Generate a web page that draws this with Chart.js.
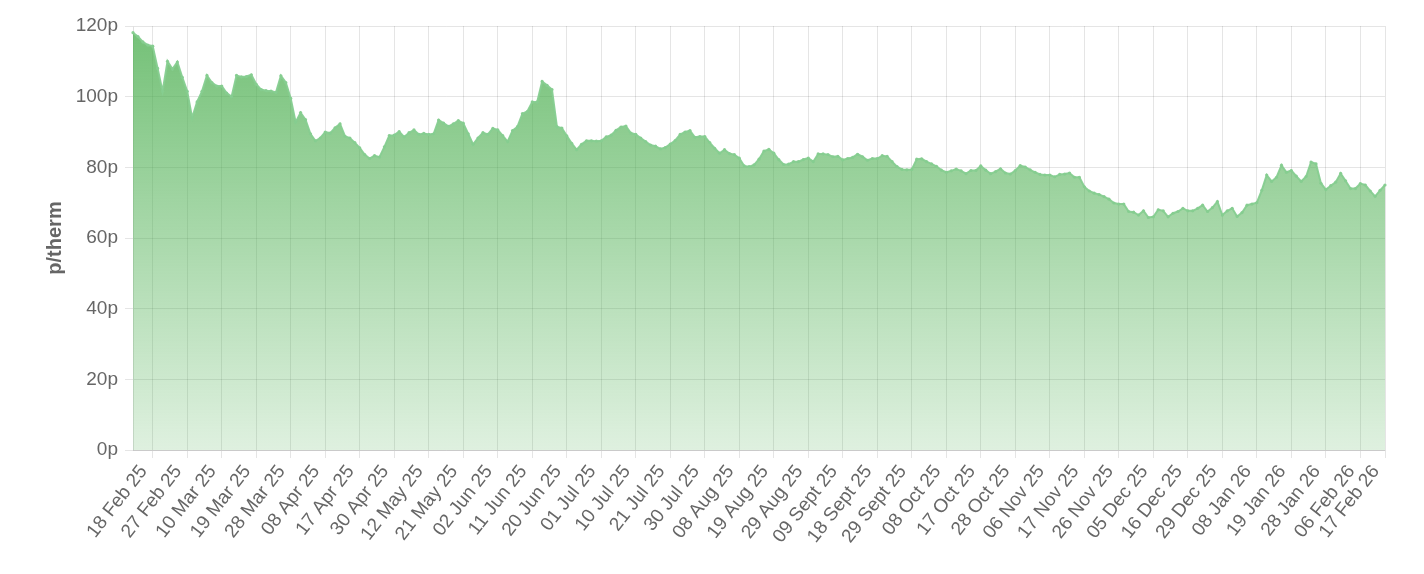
<!DOCTYPE html>
<html>
<head>
<meta charset="utf-8">
<script src="https://cdn.jsdelivr.net/npm/chart.js@4/dist/chart.umd.min.js"></script>
<style>
  html, body { margin: 0; padding: 0; background: #ffffff; }
  #wrap { width: 1424px; height: 574px; }
</style>
</head>
<body>
<div id="wrap"><canvas id="c" width="1424" height="574"></canvas></div>
<script>
// ---- DATA (p/therm, one value per trading day) ----
const pricesFebApr = [118.1,117,115.5,114.6,114.3,108,101.5,110,107.8,109.8,105.5,101.5,94,98.5,101.5,106,104,103,103,101,100,106,
  105.6,105.7,106.2,103.5,102,101.7,101.6,101.2,105.9,104,99.5,92.8,95.5,93.5,89.5,87.5,88.3,90,89.7,91.2,92.3,88.8,88.3];
const pricesAprJun = [87,85.5,83.6,82.5,83.3,82.9,85.8,89,89.1,90.1,88.6,89.8,90.6,89.3,89.6,89.3,89.5,93.4,92.5,91.6,92.3,93.2,92.5,89.5,
  86.5,88.3,89.8,89.3,91,90.6,89,87.3,90.4,91.5,95.2,95.8,98.5,98.5,104.3,103.2,102,91.5,91.1,88.9,86.8,85,86.5];
const pricesJulAug = [87.5,87.5,87.4,87.5,88.6,89.1,90.5,91.4,91.7,89.7,89.3,88.3,87.3,86.3,86,85.2,85.6,86.6,87.6,89.3,90,90.4,88.5,
  88.7,88.7,87,85.4,84,85,83.9,83.6,82.6,80.4,80.2,80.7,82.3,84.6,85.1,84,82.2,80.8,80.9,81.6,81.6,82.2,82.6,81.6];
const pricesSepOct = [83.8,83.8,83.6,83,83.1,82.1,82.5,82.8,83.7,83,82,82.5,82.5,83.3,83.1,81.6,80.2,79.4,79.3,79.4,82.3,82.4,81.6,
  81,80.3,79.2,78.6,79,79.5,79,78.2,79.1,79.1,80.4,79.2,78.2,78.8,79.6,78.4,78.1,79.1,80.5,80.1,79.3,78.6,78];
const pricesNovDec = [77.8,77.8,77.3,78,78.1,78.4,77.2,77.2,74.5,73.3,72.7,72.3,71.7,71,69.9,69.6,69.6,67.5,67.3,66.5,67.7,65.8,66,
  68,67.7,66,67,67.5,68.4,67.7,67.7,68.4,69.3,67.5,68.6,70.3,66.5,67.7,68.4,66.1,67.2,69.3,69.6,70,73.5,77.8,76];
const pricesJanFeb = [77.2,80.6,78.6,79.1,77.5,76,77.4,81.5,81,75.5,73.7,74.8,75.8,78.3,76.2,74,74,75.4,75,73.3,71.8,73.5,75];
const prices = [].concat(pricesFebApr, pricesAprJun, pricesJulAug, pricesSepOct, pricesNovDec, pricesJanFeb);

// Tick labels shown on the x axis
const tickLabels = ['18 Feb 25','27 Feb 25','10 Mar 25','19 Mar 25','28 Mar 25','08 Apr 25','17 Apr 25','30 Apr 25',
  '12 May 25','21 May 25','02 Jun 25','11 Jun 25','20 Jun 25','01 Jul 25','10 Jul 25','21 Jul 25','30 Jul 25',
  '08 Aug 25','19 Aug 25','29 Aug 25','09 Sept 25','18 Sept 25','29 Sept 25','08 Oct 25','17 Oct 25','28 Oct 25',
  '06 Nov 25','17 Nov 25','26 Nov 25','05 Dec 25','16 Dec 25','29 Dec 25','08 Jan 26','19 Jan 26','28 Jan 26',
  '06 Feb 26','17 Feb 26'];
const yTicks = [0,20,40,60,80,100,120];

// Categories: trading days (no weekends / UK bank holidays / days without a price)
const monthNames = ['Jan','Feb','Mar','Apr','May','Jun','Jul','Aug','Sept','Oct','Nov','Dec'];
const closedDays = ['2025-04-18','2025-04-21','2025-05-05','2025-05-26','2025-08-25','2025-12-25','2025-12-26','2026-01-01','2026-02-12','2026-02-13'];
const categories = [];
(function buildCategories(){
  let d = new Date(Date.UTC(2025,1,12));
  while (categories.length < prices.length) {
    const dow = d.getUTCDay();
    const iso = d.toISOString().slice(0,10);
    if (dow !== 0 && dow !== 6 && closedDays.indexOf(iso) < 0) {
      const dd = String(d.getUTCDate()).padStart(2,'0');
      const yy = String(d.getUTCFullYear()).slice(2);
      categories.push(dd + ' ' + monthNames[d.getUTCMonth()] + ' ' + yy);
    }
    d = new Date(d.getTime() + 86400000);
  }
})();

const FONT = "'Liberation Sans', Arial, Helvetica, sans-serif";
const ctx = document.getElementById('c').getContext('2d');

new Chart(ctx, {
  type: 'line',
  data: {
    labels: categories,
    datasets: [{
      data: prices,
      fill: 'origin',
      tension: 0,
      borderColor: 'rgba(134,206,144,0.95)',
      borderWidth: 2,
      pointRadius: 1.6,
      pointBorderWidth: 0,
      pointBackgroundColor: 'rgba(134,206,144,0.95)',
      backgroundColor: function(c) {
        const a = c.chart.chartArea;
        if (!a) return 'rgba(76,175,80,0.5)';
        const g = c.chart.ctx.createLinearGradient(0, a.top, 0, a.bottom);
        g.addColorStop(0, 'rgba(76,175,80,0.78)');
        g.addColorStop(1, 'rgba(76,175,80,0.18)');
        return g;
      }
    }]
  },
  options: {
    responsive: false,
    animation: false,
    devicePixelRatio: 1,
    layout: { padding: { left: 39, right: 39, top: 26, bottom: 0 } },
    plugins: { legend: { display: false }, tooltip: { enabled: false } },
    scales: {
      x: {
        type: 'category',
        afterBuildTicks: function(scale) {
          scale.ticks = scale.ticks.filter(t => tickLabels.indexOf(categories[t.value]) >= 0);
        },
        afterFit: function(scale) { scale.height = 124; },
        grid: { color: 'rgba(0,0,0,0.1)', tickLength: 8 },
        border: { color: 'rgba(0,0,0,0.12)' },
        ticks: {
          autoSkip: false,
          minRotation: 52,
          maxRotation: 52,
          labelOffset: -9,
          padding: 3,
          color: '#666',
          font: { family: FONT, size: 19 },
          callback: function(v) { return categories[v]; }
        }
      },
      y: {
        min: 0,
        max: 120,
        afterBuildTicks: function(scale) {
          scale.ticks = yTicks.map(v => ({ value: v }));
        },
        afterFit: function(scale) { scale.width = 94; },
        grid: { color: 'rgba(0,0,0,0.1)', tickLength: 8 },
        border: { color: 'rgba(0,0,0,0.12)' },
        ticks: {
          color: '#666',
          padding: 7,
          font: { family: FONT, size: 19 },
          callback: function(v) { return v + 'p'; }
        },
        title: {
          display: true,
          text: 'p/therm',
          color: '#666',
          font: { family: FONT, size: 20, weight: 'bold' }
        }
      }
    }
  }
});
</script>
</body>
</html>
